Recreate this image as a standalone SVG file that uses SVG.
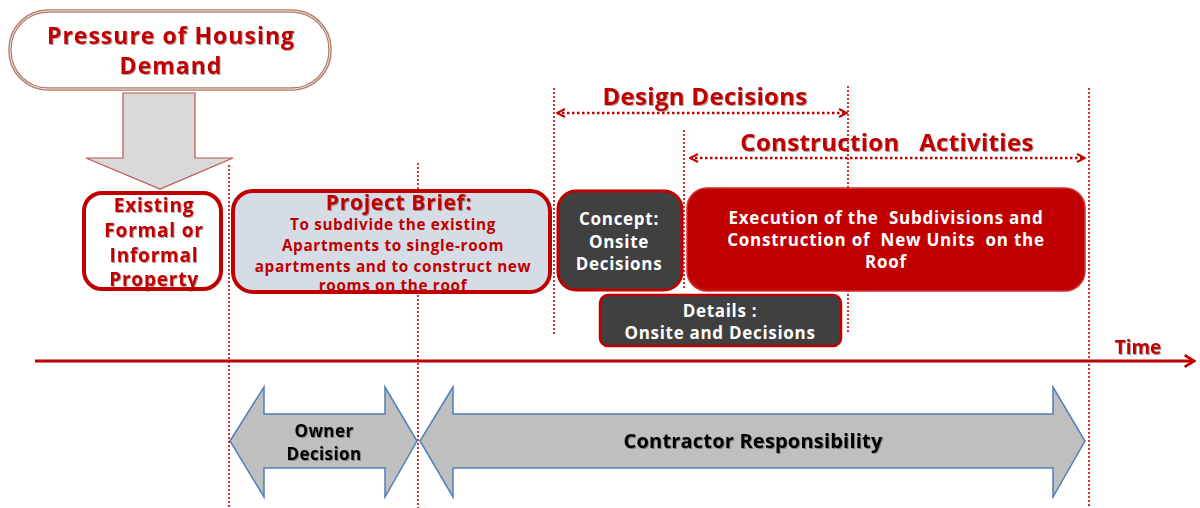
<svg xmlns="http://www.w3.org/2000/svg" width="1200" height="508" viewBox="0 0 1200 508">
<defs>
<style>
.t{font-family:"Open Sans","Liberation Sans",sans-serif;font-weight:bold;text-anchor:middle}
.red{fill:#c00000}
.wh{fill:#ffffff}
.bk{fill:#000000}
.vd{stroke:#c00000;stroke-width:1.6;stroke-dasharray:2 2;fill:none}
.hd{stroke:#c00000;stroke-width:2.5;stroke-dasharray:2.5 2.5;fill:none}
.ba{fill:#bfbfbf;stroke:#4f7fb8;stroke-width:1.5}
</style>
<marker id="chev" viewBox="0 0 10 10" refX="9" refY="5" markerWidth="10" markerHeight="10" markerUnits="userSpaceOnUse" orient="auto-start-reverse">
<polyline points="1,1 9,5 1,9" fill="none" stroke="#c00000" stroke-width="2"/>
</marker>
<marker id="axh" viewBox="0 0 12 12" refX="10" refY="6" markerWidth="14" markerHeight="14" markerUnits="userSpaceOnUse" orient="auto">
<polyline points="2,1 10,6 2,11" fill="none" stroke="#c00000" stroke-width="2.4"/>
</marker>
<filter id="sh" x="-5%" y="-20%" width="110%" height="140%">
<feDropShadow dx="1" dy="1" stdDeviation="0.6" flood-color="#000" flood-opacity="0.35"/>
</filter>
</defs>

<g id="guides">
<line class="vd" x1="229" y1="165" x2="229" y2="508"/>
<line class="vd" x1="418" y1="163" x2="418" y2="508"/>
<line class="vd" x1="554" y1="88" x2="554" y2="336"/>
<line class="vd" x1="684" y1="130" x2="684" y2="290"/>
<line class="vd" x1="848" y1="86" x2="848" y2="332"/>
<line class="vd" x1="1089" y1="88" x2="1089" y2="508"/>
</g>

<g id="pressure">
<rect x="10" y="11" width="320" height="78" rx="38" fill="#ffffff" stroke="#b07c68" stroke-width="3.5"/>
<rect x="10" y="11" width="320" height="78" rx="38" fill="none" stroke="#ffffff" stroke-width="0.8"/>
<text class="t red" font-size="23" letter-spacing="1" filter="url(#sh)"><tspan x="171" y="44">Pressure of Housing</tspan><tspan x="171" y="74">Demand</tspan></text>
</g>

<g id="down-arrow">
<polygon points="123,93 195,93 195,158 233,158 160,189 86,158 123,158" fill="#d9d9d9" stroke="#c0504d" stroke-width="1.2"/>
</g>

<g id="existing">
<rect x="84" y="193" width="137" height="96" rx="18" fill="#ffffff" stroke="#c00000" stroke-width="4"/>
<text class="t red" font-size="19" letter-spacing="0.8" filter="url(#sh)"><tspan x="154" y="212">Existing</tspan><tspan x="154" y="237">Formal or</tspan><tspan x="154" y="262">Informal</tspan><tspan x="154" y="286">Property</tspan></text>
</g>

<g id="project-brief">
<rect x="233" y="191" width="317" height="101" rx="20" fill="#d6dce5" stroke="#c00000" stroke-width="4"/>
<text class="t red" font-size="21" letter-spacing="0.7" x="399" y="210" filter="url(#sh)">Project Brief:</text>
<text class="t red" font-size="15.3" letter-spacing="0.65"><tspan x="393" y="230">To subdivide the existing</tspan><tspan x="393" y="251">Apartments to single-room</tspan><tspan x="393" y="272">apartments and to construct new</tspan><tspan x="393" y="291">rooms on the roof</tspan></text>
</g>

<g id="concept">
<rect x="558" y="191" width="124" height="99" rx="18" fill="#404040" stroke="#c00000" stroke-width="3"/>
<text class="t wh" font-size="17" letter-spacing="0.7"><tspan x="619" y="225">Concept:</tspan><tspan x="619" y="248">Onsite</tspan><tspan x="619" y="270">Decisions</tspan></text>
</g>

<g id="execution">
<rect x="687" y="188" width="398" height="103" rx="20" fill="#c00000" stroke="#d03030" stroke-width="1.5"/>
<text class="t wh" font-size="17" letter-spacing="0.75" xml:space="preserve"><tspan x="886" y="224">Execution of the  Subdivisions and</tspan><tspan x="886" y="246">Construction of  New Units  on the</tspan><tspan x="886" y="268">Roof</tspan></text>
</g>

<g id="details">
<rect x="600" y="295" width="241" height="51" rx="8" fill="#404040" stroke="#c00000" stroke-width="2.5"/>
<text class="t wh" font-size="17" letter-spacing="0.7"><tspan x="720" y="317">Details :</tspan><tspan x="720" y="339">Onsite and Decisions</tspan></text>
</g>

<g id="labels">
<text class="t red" font-size="24" letter-spacing="0.3" x="705" y="105" filter="url(#sh)">Design Decisions</text>
<text class="t red" font-size="24" letter-spacing="0.3" x="887" y="151" filter="url(#sh)" xml:space="preserve">Construction   Activities</text>
<text class="t red" font-size="19" x="1138" y="354" filter="url(#sh)">Time</text>
</g>

<g id="connectors">
<line class="hd" x1="557" y1="113" x2="847" y2="113" marker-start="url(#chev)" marker-end="url(#chev)"/>
<line class="hd" x1="690" y1="158" x2="1085" y2="158" marker-start="url(#chev)" marker-end="url(#chev)"/>
<line x1="35" y1="361" x2="1194" y2="361" stroke="#c00000" stroke-width="3" marker-end="url(#axh)"/>
</g>

<g id="owner-decision">
<polygon class="ba" points="230,441 264,387 264,414 385,414 385,387 417,441 385,497 385,468 264,468 264,497"/>
<text class="t bk" font-size="17" letter-spacing="0.4" filter="url(#sh)"><tspan x="324" y="437">Owner</tspan><tspan x="324" y="460">Decision</tspan></text>
</g>

<g id="contractor">
<polygon class="ba" points="420,441 453,387 453,414 1053,414 1053,387 1085,441 1053,497 1053,468 453,468 453,497"/>
<text class="t bk" font-size="20" letter-spacing="0.2" x="753" y="448" filter="url(#sh)">Contractor Responsibility</text>
</g>
</svg>
